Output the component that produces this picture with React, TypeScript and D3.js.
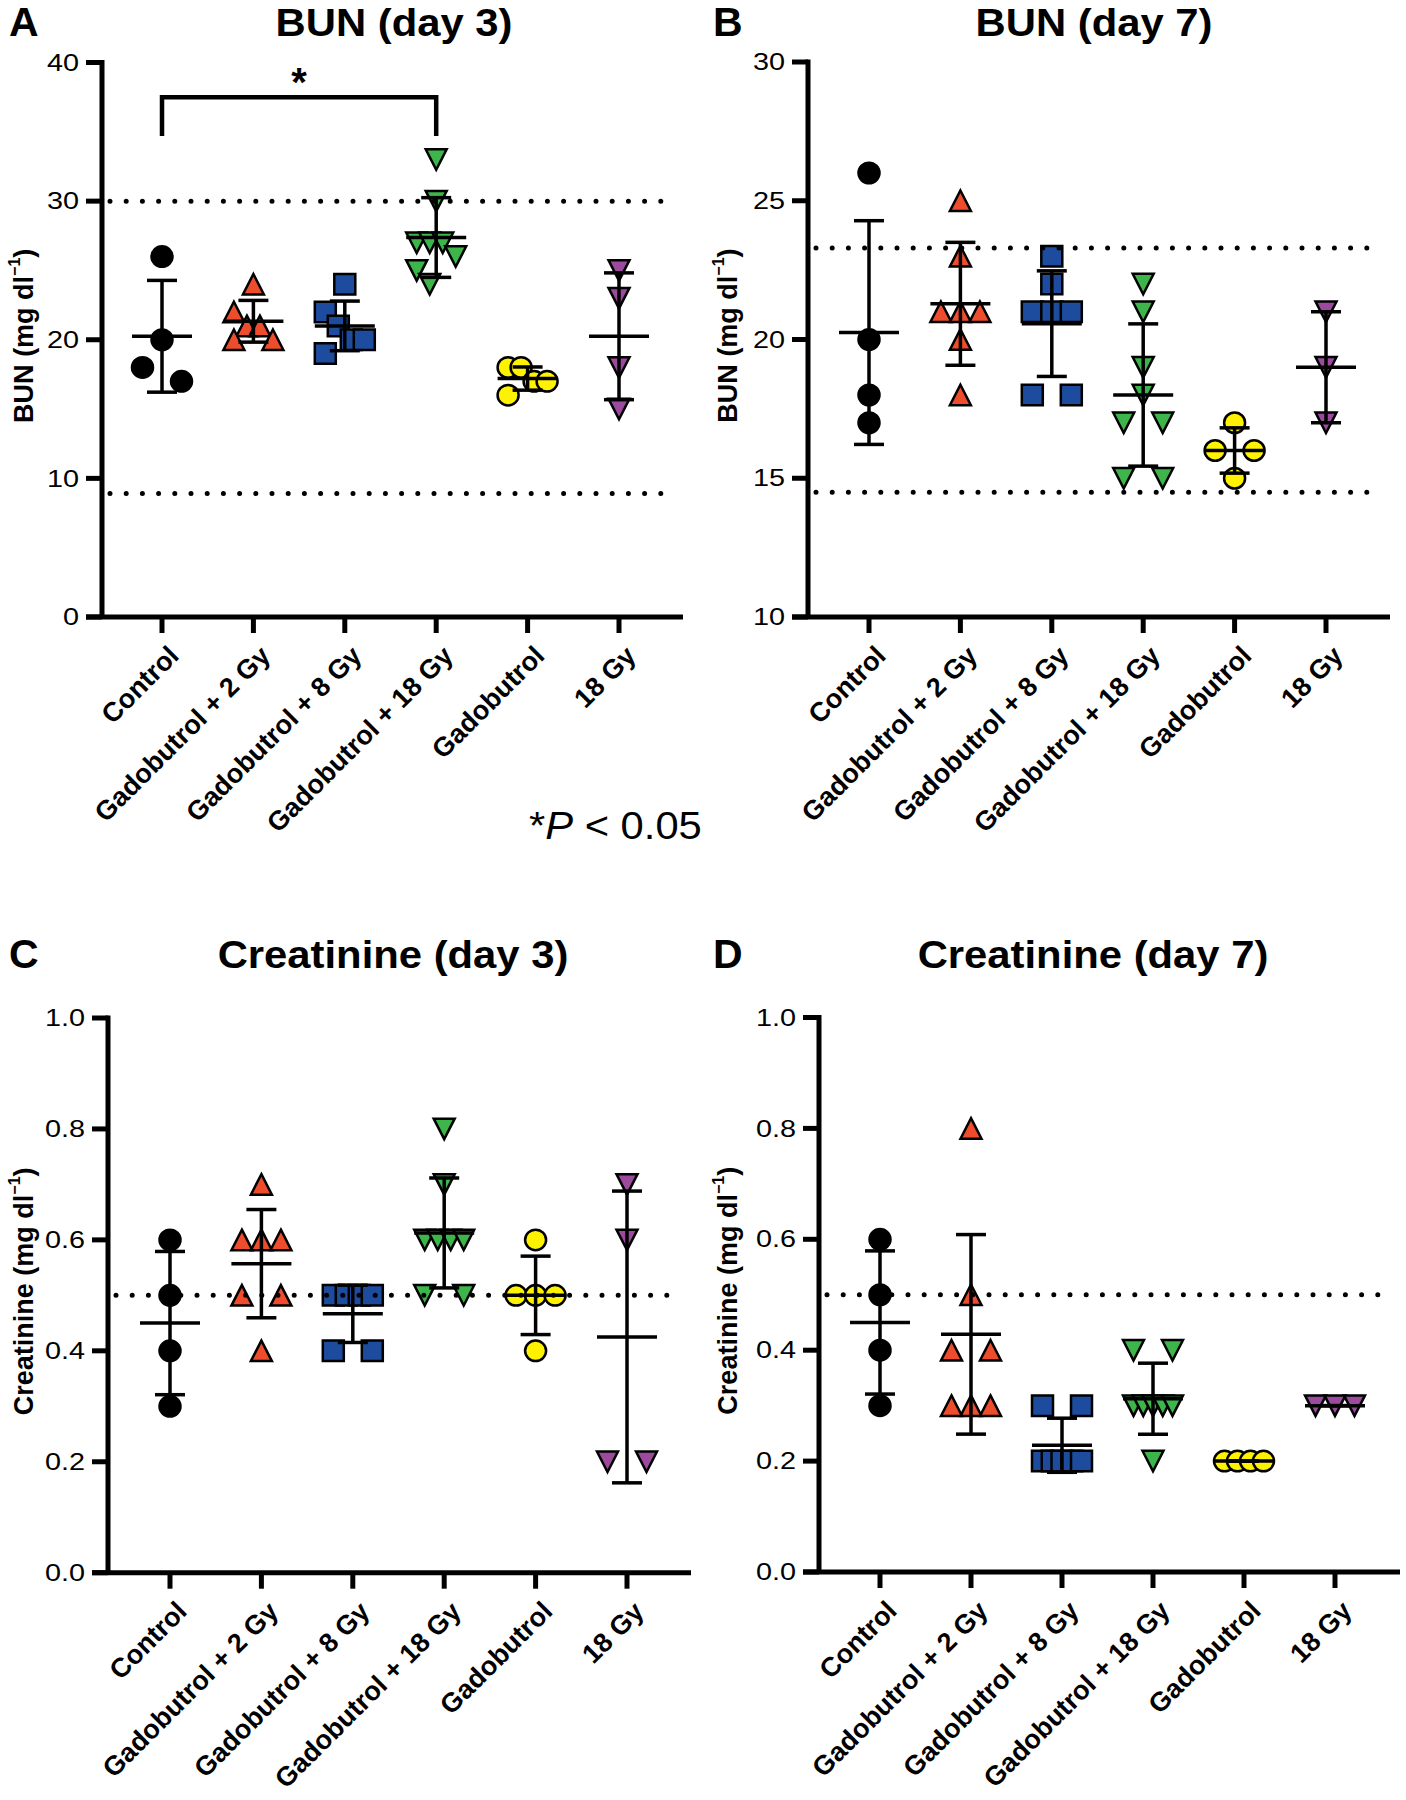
import React from "react"
import * as d3 from "d3"

const FONT = "'Liberation Sans', Arial, Helvetica, sans-serif"

const GROUPS = [
  "Control",
  "Gadobutrol + 2 Gy",
  "Gadobutrol + 8 Gy",
  "Gadobutrol + 18 Gy",
  "Gadobutrol",
  "18 Gy",
]

// individual animals per group, in GROUPS order
const BUN_DAY3 = [
  [26, 20, 18, 17],
  [24, 22, 21, 21, 20, 20],
  [24, 22, 21, 20, 20, 19],
  [33, 30, 27, 27, 27, 26, 25, 24],
  [18, 18, 17, 17, 16],
  [25, 23, 18, 15],
]
const BUN_DAY7 = [
  [26, 20, 18, 17],
  [25, 23, 21, 21, 21, 20, 18],
  [23, 22, 21, 21, 21, 18, 18],
  [22, 21, 19, 18, 17, 17, 15, 15],
  [17, 16, 16, 15],
  [21, 19, 17],
]
const CREAT_DAY3 = [
  [0.6, 0.5, 0.4, 0.3],
  [0.7, 0.6, 0.6, 0.6, 0.5, 0.5, 0.4],
  [0.5, 0.5, 0.5, 0.5, 0.4, 0.4],
  [0.8, 0.7, 0.6, 0.6, 0.6, 0.6, 0.5, 0.5],
  [0.6, 0.5, 0.5, 0.5, 0.4],
  [0.7, 0.6, 0.2, 0.2],
]
const CREAT_DAY7 = [
  [0.6, 0.5, 0.4, 0.3],
  [0.8, 0.5, 0.4, 0.4, 0.3, 0.3, 0.3],
  [0.3, 0.3, 0.2, 0.2, 0.2, 0.2, 0.2],
  [0.4, 0.4, 0.3, 0.3, 0.3, 0.3, 0.3, 0.2],
  [0.2, 0.2, 0.2, 0.2],
  [0.3, 0.3, 0.3],
]

// normal-range reference lines (dotted)
const BUN_DAY3_REF = [30, 8.9]
const BUN_DAY7_REF = [23.3, 14.5]
const CREAT_REF = [0.5]

const BUN_DAY3_TICKS = [0, 10, 20, 30, 40]
const BUN_DAY7_TICKS = [10, 15, 20, 25, 30]
const CREAT_TICKS = [0, 0.2, 0.4, 0.6, 0.8, 1.0]

// significance bracket, panel A (Control vs Gadobutrol + 18 Gy)
const SIG_PAIR = ["Control", "Gadobutrol + 18 Gy"]
const SIG_BRACKET = [37.5, 34.7] // top, leg end (mg/dl)

const MARKERS = [
  { shape: "circle", fill: "#000000" },
  { shape: "triUp", fill: "#EE4D2D" },
  { shape: "square", fill: "#1D4C9E" },
  { shape: "triDown", fill: "#3DB54A" },
  { shape: "circle", fill: "#FFF200" },
  { shape: "triDown", fill: "#9B4A9D" },
]

const MW = 21
const MH = 20.5
const SPREAD = 39

// unit-box shapes, scaled to the marker size at draw time
const SHAPE_PATH: Record<string, string> = {
  circle: d3.symbol(d3.symbolCircle, Math.PI * 0.25)() as string,
  square: d3.symbol(d3.symbolSquare, 1)() as string,
  triUp: (() => {
    const p = d3.path()
    p.moveTo(0, -0.5)
    p.lineTo(0.5, 0.5)
    p.lineTo(-0.5, 0.5)
    p.closePath()
    return p.toString()
  })(),
  triDown: (() => {
    const p = d3.path()
    p.moveTo(-0.5, -0.5)
    p.lineTo(0.5, -0.5)
    p.lineTo(0, 0.5)
    p.closePath()
    return p.toString()
  })(),
}

// Prism-like horizontal spreading of points that would overlap
function spreadOffsets(values: number[], y: (v: number) => number) {
  const order = values.map((_, i) => i).sort((a, b) => values[b] - values[a])
  const clusters: number[][] = []
  let cur: number[] = []
  order.forEach(i => {
    if (cur.length && Math.abs(y(values[i]) - y(values[cur[cur.length - 1]])) >= 18) {
      clusters.push(cur)
      cur = []
    }
    cur.push(i)
  })
  if (cur.length) clusters.push(cur)

  const off = values.map(() => 0)
  clusters.forEach(c => {
    const n = c.length
    if (n === 1) return
    const same = c.every(i => values[i] === values[c[0]])
    if (same || n <= 4) {
      c.forEach((i, k) => (off[i] = (k / (n - 1) - 0.5) * SPREAD))
    } else {
      const slots = [-1.5, -0.5, 0.5, 1.5].map(s => (s * SPREAD) / 3)
      c.forEach((i, k) => (off[i] = slots[k % 4]))
    }
  })
  return off
}

type PanelProps = {
  data: number[][]
  domain: [number, number]
  ticks: number[]
  tickFormat: (v: number) => string
  refs: number[]
  axisX: number
  axisEnd: number
  yTop: number
  yBottom: number
  catFirst: number
  catLast: number
  title: string
  titleX: number
  titleY: number
  letter: string
  letterX: number
  yLabel: string
  labelX: number
  sig?: boolean
}

function Panel(props: PanelProps) {
  const {
    data, domain, ticks, tickFormat, refs, axisX, axisEnd, yTop, yBottom,
    catFirst, catLast, title, titleX, titleY, letter, letterX, yLabel, labelX, sig,
  } = props

  const x = d3.scalePoint<string>().domain(GROUPS).range([catFirst, catLast])
  const y = d3.scaleLinear().domain(domain).range([yBottom, yTop])

  return (
    <g fontFamily={FONT}>
      {/* Panel letter + title */}
      <text x={letterX} y={titleY} fontSize={41} fontWeight={700}>
        {letter}
      </text>
      <text
        transform={`translate(${titleX},${titleY}) scale(1.1,1)`}
        fontSize={38}
        fontWeight={700}
        textAnchor="middle"
      >
        {title}
      </text>

      {/* Y axis title */}
      <text
        transform={`translate(${labelX},${(yTop + yBottom) / 2 - 4}) rotate(-90)`}
        fontSize={27}
        fontWeight={700}
        textAnchor="middle"
        dominantBaseline="central"
      >
        {yLabel} (mg dl
        <tspan fontSize={16} dy={-10}>
          −1
        </tspan>
        <tspan dy={10}>)</tspan>
      </text>

      {/* Points */}
      {data.map((vals, gi) => {
        const off = spreadOffsets(vals, y)
        const m = MARKERS[gi]
        return (
          <g key={"pts" + gi}>
            {vals.map((v, i) => (
              <path
                key={i}
                d={SHAPE_PATH[m.shape]}
                transform={`translate(${(x(GROUPS[gi]) as number) + off[i]},${y(v)}) scale(${MW},${MH})`}
                fill={m.fill}
                stroke="#000"
                strokeWidth={2.5}
                vectorEffect="non-scaling-stroke"
              />
            ))}
          </g>
        )
      })}

      {/* Mean ± SD */}
      {data.map((vals, gi) => {
        const cx = x(GROUPS[gi]) as number
        const mean = d3.mean(vals) as number
        const sd = d3.deviation(vals) || 0
        return (
          <g key={"err" + gi} stroke="#000" strokeWidth={3.5}>
            <line x1={cx} x2={cx} y1={y(mean + sd)} y2={y(mean - sd)} />
            <line x1={cx - 15} x2={cx + 15} y1={y(mean + sd)} y2={y(mean + sd)} />
            <line x1={cx - 15} x2={cx + 15} y1={y(mean - sd)} y2={y(mean - sd)} />
            <line x1={cx - 30} x2={cx + 30} y1={y(mean)} y2={y(mean)} />
          </g>
        )
      })}

      {/* Reference range */}
      {refs.map(r => (
        <line
          key={"ref" + r}
          x1={axisX + 8}
          x2={axisEnd - 8}
          y1={y(r)}
          y2={y(r)}
          stroke="#000"
          strokeWidth={5}
          strokeLinecap="round"
          strokeDasharray="0 16.2"
        />
      ))}

      {/* Axes */}
      <line x1={axisX} x2={axisX} y1={yTop - 2.5} y2={yBottom} stroke="#000" strokeWidth={5} />
      <line x1={axisX - 16} x2={axisEnd} y1={yBottom} y2={yBottom} stroke="#000" strokeWidth={5} />
      {ticks.map(t => (
        <g key={"yt" + t}>
          <line x1={axisX - 16} x2={axisX} y1={y(t)} y2={y(t)} stroke="#000" strokeWidth={5} />
          <text
            transform={`translate(${axisX - 23},${y(t)}) scale(1.2,1)`}
            fontSize={24}
            textAnchor="end"
            dominantBaseline="central"
          >
            {tickFormat(t)}
          </text>
        </g>
      ))}
      {GROUPS.map(gName => {
        const cx = x(gName) as number
        return (
          <g key={"xt" + gName}>
            <line x1={cx} x2={cx} y1={yBottom} y2={yBottom + 16} stroke="#000" strokeWidth={5} />
            <text
              transform={`translate(${cx + 12},${yBottom + 34}) rotate(-45)`}
              fontSize={27}
              fontWeight={700}
              textAnchor="end"
              dominantBaseline="central"
            >
              {gName}
            </text>
          </g>
        )
      })}

      {/* Significance */}
      {sig && (
        <g>
          <path
            d={`M${x(SIG_PAIR[0])},${y(SIG_BRACKET[1])}V${y(SIG_BRACKET[0])}H${x(SIG_PAIR[1])}V${y(SIG_BRACKET[1])}`}
            fill="none"
            stroke="#000"
            strokeWidth={4.5}
          />
          <text
            x={((x(SIG_PAIR[0]) as number) + (x(SIG_PAIR[1]) as number)) / 2}
            y={y(SIG_BRACKET[0]) - 1}
            fontSize={40}
            fontWeight={700}
            textAnchor="middle"
          >
            *
          </text>
        </g>
      )}
    </g>
  )
}

export default function App() {
  const fmtInt = d3.format("d")
  const fmtDec = d3.format(".1f")
  return (
    <svg
      width={1406}
      height={1800}
      style={{ position: "absolute", left: 0, top: 0, background: "#fff" }}
    >
      <Panel
        data={BUN_DAY3}
        domain={[0, 40]}
        ticks={BUN_DAY3_TICKS}
        tickFormat={fmtInt}
        refs={BUN_DAY3_REF}
        axisX={102}
        axisEnd={683}
        yTop={62.5}
        yBottom={617}
        catFirst={162}
        catLast={619}
        title="BUN (day 3)"
        titleX={394}
        titleY={36}
        letter="A"
        letterX={9}
        yLabel="BUN"
        labelX={24}
        sig
      />
      <Panel
        data={BUN_DAY7}
        domain={[10, 30]}
        ticks={BUN_DAY7_TICKS}
        tickFormat={fmtInt}
        refs={BUN_DAY7_REF}
        axisX={808}
        axisEnd={1390}
        yTop={62}
        yBottom={617}
        catFirst={869}
        catLast={1326}
        title="BUN (day 7)"
        titleX={1094}
        titleY={36}
        letter="B"
        letterX={713}
        yLabel="BUN"
        labelX={728}
      />
      <Panel
        data={CREAT_DAY3}
        domain={[0, 1]}
        ticks={CREAT_TICKS}
        tickFormat={fmtDec}
        refs={CREAT_REF}
        axisX={108}
        axisEnd={691}
        yTop={1018}
        yBottom={1572.7}
        catFirst={170}
        catLast={627}
        title="Creatinine (day 3)"
        titleX={393}
        titleY={968}
        letter="C"
        letterX={9}
        yLabel="Creatinine"
        labelX={24}
      />
      <Panel
        data={CREAT_DAY7}
        domain={[0, 1]}
        ticks={CREAT_TICKS}
        tickFormat={fmtDec}
        refs={CREAT_REF}
        axisX={819}
        axisEnd={1400}
        yTop={1017.5}
        yBottom={1572}
        catFirst={880}
        catLast={1335}
        title="Creatinine (day 7)"
        titleX={1093}
        titleY={968}
        letter="D"
        letterX={713}
        yLabel="Creatinine"
        labelX={728}
      />
      <text
        transform="translate(529,839) scale(1.07,1)"
        fontSize={39}
        fontFamily={FONT}
      >
        *<tspan fontStyle="italic">P</tspan> &lt; 0.05
      </text>
    </svg>
  )
}
